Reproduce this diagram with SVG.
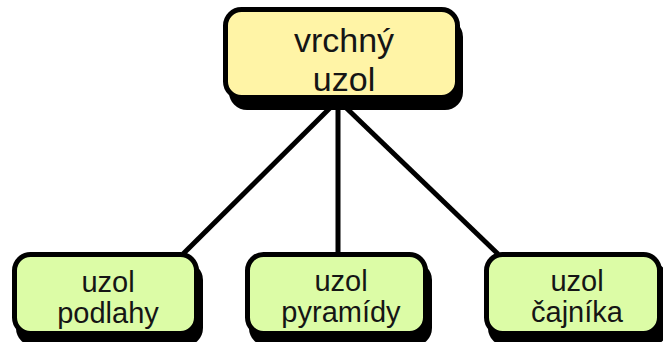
<svg xmlns="http://www.w3.org/2000/svg" width="663" height="342" viewBox="0 0 663 342">
  <style>
    .shadow { fill: #000; }
    .box { stroke: #000; stroke-width: 5; }
    .top { fill: #FFF4A6; }
    .leaf { fill: #DCFCA6; }
    .label { font-family: "Liberation Sans", Arial, sans-serif; fill: #151515; text-anchor: middle; }
    .big { font-size: 34px; }
    .small { font-size: 29px; }
    .edge { stroke: #000; stroke-width: 5; fill: none; }
  </style>

  <g id="connectors">
    <line class="edge" x1="338" y1="100" x2="183" y2="254"/>
    <line class="edge" x1="338" y1="100" x2="338" y2="254"/>
    <line class="edge" x1="338" y1="100" x2="498" y2="254"/>
  </g>

  <g id="vrchny-uzol">
    <rect class="shadow" x="229" y="19" width="234" height="91" rx="18"/>
    <rect class="box top" x="225.5" y="9.5" width="232" height="88" rx="16"/>
    <text class="label big" x="344" y="52">vrchný</text>
    <text class="label big" x="344" y="90.5">uzol</text>
  </g>

  <g id="uzol-podlahy">
    <rect class="shadow" x="16" y="262" width="187" height="84" rx="18"/>
    <rect class="box leaf" x="14.5" y="254.5" width="182" height="79" rx="16"/>
    <text class="label small" x="108" y="292">uzol</text>
    <text class="label small" x="108" y="323">podlahy</text>
  </g>

  <g id="uzol-pyramidy">
    <rect class="shadow" x="249" y="262" width="183" height="84" rx="18"/>
    <rect class="box leaf" x="247.5" y="254.5" width="178" height="79" rx="16"/>
    <text class="label small" x="341" y="291">uzol</text>
    <text class="label small" x="341" y="322">pyramídy</text>
  </g>

  <g id="uzol-cajnika">
    <rect class="shadow" x="488" y="262" width="180" height="84" rx="18"/>
    <rect class="box leaf" x="486.5" y="254.5" width="173" height="79" rx="16"/>
    <text class="label small" x="577" y="291">uzol</text>
    <text class="label small" x="577" y="322">čajníka</text>
  </g>
</svg>
